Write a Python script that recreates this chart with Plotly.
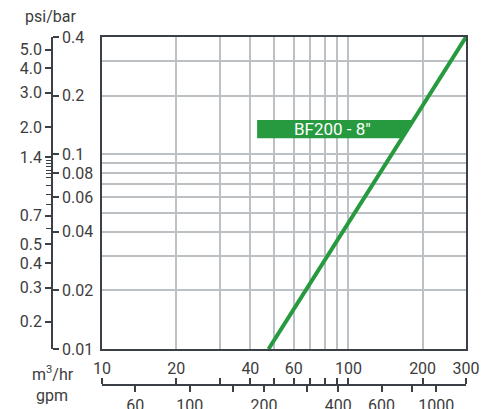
import numpy as np
import plotly.graph_objects as go

# ---- data ----
flow_m3h = [47.4, 60, 80, 100, 150, 200, 300]
dp_bar = [0.01, 0.016, 0.0284, 0.0444, 0.1, 0.178, 0.4]
series_name = "BF200 - 8\u2033"

x_range = [10, 300]
y_range = [0.01, 0.4]

x_grid = [10, 20, 30, 40, 50, 60, 70, 80, 90, 100, 200, 300]
x_labels = ["10", "20", "", "40", "", "60", "", "", "", "100", "200", "300"]
y_grid = [0.02, 0.03, 0.04, 0.05, 0.06, 0.07, 0.08, 0.09, 0.1, 0.2, 0.3, 0.4]

bar_ticks = [0.01, 0.02, 0.04, 0.06, 0.08, 0.1, 0.2, 0.4]
bar_labels = ["0.01", "0.02", "0.04", "0.06", "0.08", "0.1", "0.2", "0.4"]
psi_ticks = [5.0, 4.0, 3.0, 2.0, 1.4, 0.7, 0.5, 0.4, 0.3, 0.2]
psi_labels = ["5.0", "4.0", "3.0", "2.0", "1.4", "0.7", "0.5", "0.4", "0.3", "0.2"]
psi_minor = [1.35, 1.3, 1.25, 1.2, 1.15, 1.1, 1.0, 0.9, 0.8, 0.6]
PSI_PER_BAR = 14.5038

m3h_ticks = [10, 20, 30, 40, 50, 60, 70, 80, 90, 100, 200, 300]
gpm_ticks = [60, 100, 150, 200, 300, 400, 600, 800, 1000]
gpm_labels = ["60", "100", "", "200", "", "400", "600", "", "1000"]
GPM_PER_M3H = 4.403

label_x_start = 42.6
label_y = [0.121, 0.150]

GREEN = "#279a3f"
TEXT = "#3d3d3d"
GRID = "#bcc1c6"
FRAME = "#3a4046"
FONT = "Roboto"

W, H = 495, 409
ml, mr, mt, mb = 40, 29, 37, 20
plot_w = W - ml - mr
plot_h = H - mt - mb
x_dom0 = (102 - ml) / plot_w
y_dom0 = (H - mb - 349) / plot_h
left_axis_pos = (52 - ml) / plot_w
bottom_axis_pos = (H - mb - 385) / plot_h

fig = go.Figure()

fig.add_trace(go.Scatter(x=flow_m3h, y=dp_bar, mode="lines",
                         line=dict(color=GREEN, width=4),
                         showlegend=False, hoverinfo="skip", cliponaxis=True))

# dummy traces so overlay axes render
for xa, ya in [("x", "y2"), ("x", "y3"), ("x2", "y"), ("x3", "y")]:
    fig.add_trace(go.Scatter(x=[20], y=[0.05], xaxis=xa, yaxis=ya, mode="markers",
                             marker=dict(opacity=0), showlegend=False, hoverinfo="skip"))

# label box (right side follows the curve)
lx = np.log10(flow_m3h)
ly = np.log10(dp_bar)
def x_on_curve(yv):
    return 10 ** np.interp(np.log10(yv), ly, lx)

xr_top = x_on_curve(label_y[1])
xr_bot = x_on_curve(label_y[0])
path = (f"M {label_x_start},{label_y[0]} L {label_x_start},{label_y[1]} "
        f"L {xr_top},{label_y[1]} L {xr_bot},{label_y[0]} Z")
fig.add_shape(type="path", path=path, xref="x", yref="y",
              fillcolor=GREEN, line=dict(width=0), layer="above")

fig.add_annotation(x=np.log10(np.sqrt(label_x_start * xr_bot) * 1.03),
                   y=np.log10(np.sqrt(label_y[0] * label_y[1])),
                   xref="x", yref="y", text=series_name, showarrow=False,
                   xanchor="center", yanchor="middle",
                   font=dict(family=FONT, size=17, color="white"))

lr = lambda r: [np.log10(r[0]), np.log10(r[1])]

fig.update_layout(
    width=W, height=H,
    margin=dict(l=ml, r=mr, t=mt, b=mb, autoexpand=False),
    paper_bgcolor="white", plot_bgcolor="white",
    font=dict(family=FONT, size=15, color=TEXT),
    xaxis=dict(type="log", range=lr(x_range), domain=[x_dom0, 1], automargin=False,
               tickmode="array", tickvals=x_grid, ticktext=x_labels,
               showgrid=True, gridcolor=GRID, gridwidth=1.5,
               showline=True, linecolor=FRAME, linewidth=2, mirror=True,
               ticks="outside", ticklen=4, tickcolor="rgba(0,0,0,0)",
               tickfont=dict(size=16, color=TEXT), zeroline=False),
    yaxis=dict(type="log", range=lr(y_range), domain=[y_dom0, 1], automargin=False,
               tickmode="array", tickvals=y_grid, showticklabels=False,
               showgrid=True, gridcolor=GRID, gridwidth=1.5,
               showline=True, linecolor=FRAME, linewidth=2, mirror=True,
               ticks="", zeroline=False),
    yaxis2=dict(type="log", range=lr(y_range), domain=[y_dom0, 1], automargin=False,
                overlaying="y", anchor="free", position=left_axis_pos, side="right",
                tickmode="array", tickvals=bar_ticks, ticktext=bar_labels,
                ticks="outside", ticklen=6, tickwidth=1.5, tickcolor=FRAME,
                showline=True, linecolor=FRAME, linewidth=1.5, showgrid=False,
                tickfont=dict(size=16, color=TEXT), zeroline=False),
    yaxis3=dict(type="log", range=lr(y_range), domain=[y_dom0, 1], automargin=False,
                overlaying="y", anchor="free", position=left_axis_pos, side="left",
                tickmode="array", tickvals=[p / PSI_PER_BAR for p in psi_ticks],
                ticktext=psi_labels,
                ticks="outside", ticklen=6, tickwidth=1.5, tickcolor=FRAME,
                minor=dict(tickmode="array", tickvals=[p / PSI_PER_BAR for p in psi_minor],
                           ticks="outside", ticklen=5, tickwidth=1.2, tickcolor=FRAME,
                           showgrid=False),
                showline=True, linecolor=FRAME, linewidth=1.5, showgrid=False,
                tickfont=dict(size=16, color=TEXT), zeroline=False),
    xaxis2=dict(type="log", range=lr(x_range), domain=[x_dom0, 1], automargin=False,
                overlaying="x", anchor="free", position=bottom_axis_pos, side="bottom",
                tickmode="array", tickvals=[g / GPM_PER_M3H for g in gpm_ticks],
                ticktext=gpm_labels, ticklabelstandoff=0,
                ticks="outside", ticklen=6, tickwidth=1.5, tickcolor=FRAME,
                showline=True, linecolor=FRAME, linewidth=1.5, showgrid=False,
                tickfont=dict(size=16, color=TEXT), zeroline=False),
    xaxis3=dict(type="log", range=lr(x_range), domain=[x_dom0, 1], automargin=False,
                overlaying="x", anchor="free", position=bottom_axis_pos, side="top",
                tickmode="array", tickvals=m3h_ticks, showticklabels=False,
                ticks="outside", ticklen=6, tickwidth=1.5, tickcolor=FRAME,
                showline=True, linecolor=FRAME, linewidth=1.5, showgrid=False,
                zeroline=False),
)

for txt, px, py in [("psi/bar", 50, 17), ("m<sup>3</sup>/hr", 53, 373), ("gpm", 52, 396)]:
    fig.add_annotation(x=(px - ml) / plot_w, y=(H - mb - py) / plot_h,
                       xref="paper", yref="paper", xanchor="center", yanchor="middle",
                       text=txt, showarrow=False, font=dict(size=16, color=TEXT))

fig.write_html("out.html", config={"displayModeBar": False},
               post_script="document.body.style.margin='0';")
